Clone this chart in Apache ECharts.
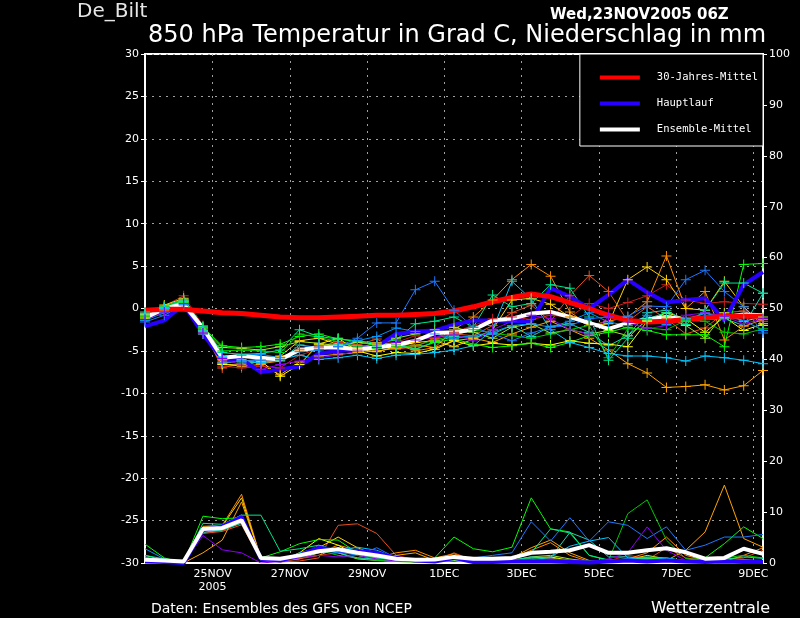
<!DOCTYPE html>
<html>
<head>
<meta charset="utf-8">
<title>De_Bilt 850 hPa Ensemble</title>
<script src="https://cdn.jsdelivr.net/npm/echarts@6/dist/echarts.min.js"></script>
<style>
  html, body { margin: 0; padding: 0; background: #000; }
  #main { width: 800px; height: 618px; }
</style>
</head>
<body>
<div id="main"></div>
<script>
// Stunden seit 23NOV2005 00Z (Lauf 06Z, alle 12h bis +384h)
var validHours = [6, 18, 30, 42, 54, 66, 78, 90, 102, 114, 126, 138, 150, 162, 174, 186, 198,
    210, 222, 234, 246, 258, 270, 282, 294, 306, 318, 330, 342, 354, 366, 378, 390];

var xTickHours = [48, 96, 144, 192, 240, 288, 336, 384];
var xTickLabels = ['25NOV\n2005', '27NOV', '29NOV', '1DEC', '3DEC', '5DEC', '7DEC', '9DEC'];

// 30-Jahres-Mittel (Temperatur)
var climTemp = [-0.2, -0.1, -0.1, -0.3, -0.5, -0.6, -0.8, -1.0, -1.1, -1.1, -1.0, -0.9, -0.8, -0.8, -0.7, -0.6, -0.3,
    0.2, 0.8, 1.3, 1.7, 1.4, 0.7, 0.0, -0.8, -1.4, -1.6, -1.5, -1.3, -1.1, -0.9, -0.9, -0.9];
// Hauptlauf
var mainTemp = [-2.1, -1.4, 0.5, -3.0, -6.0, -6.0, -7.5, -7.2, -6.8, -5.3, -5.0, -4.8, -4.5, -3.0, -2.7, -2.6, -1.9,
    -1.4, -1.4, -1.5, -1.5, 2.4, 1.4, 0.0, 1.6, 3.4, 1.9, 0.7, 1.0, 1.2, -1.4, 2.8, 4.3];
var mainPrec = [0.3, 0.2, 0.0, 6.5, 7.2, 9.0, 0.8, 0.5, 1.5, 3.0, 2.5, 2.3, 2.0, 1.0, 0.5, 0.3, 1.0,
    0.2, 0.2, 0.3, 0.3, 0.3, 0.2, 0.1, 0.3, 0.5, 0.3, 0.5, 0.3, 0.2, 0.3, 0.2, 0.2];
// Ensemble-Mittel
var meanTemp = [-1.1, 0.0, 0.5, -2.3, -5.8, -5.6, -5.8, -6.0, -4.9, -4.6, -4.6, -4.8, -4.6, -4.3, -3.8, -2.9, -2.8,
    -2.5, -1.4, -1.2, -0.6, -0.4, -1.0, -1.7, -2.4, -1.7, -1.3, -1.0, -1.3, -1.1, -1.0, -0.7, -0.8];
var meanPrec = [0.65, 0.5, 0.3, 6.7, 6.9, 8.4, 1.0, 0.85, 1.5, 2.3, 2.7, 2.0, 1.5, 0.85, 0.65, 0.7, 1.2,
    0.85, 0.85, 1.0, 2.0, 2.2, 2.5, 3.5, 2.0, 2.0, 2.5, 2.9, 2.1, 0.85, 1.0, 2.8, 1.8];

// Ensemble-Mitglieder
var memberColors = ['#c81e1e', '#e6501e', '#ff8c00', '#ffa500', '#ffd200', '#ffff00', '#a0e632', '#00ff00',
    '#00c800', '#00e68c', '#1ed2b4', '#00c8ff', '#0096ff', '#1e78ff', '#8c00f0'];

var memberTemp = [
    [-0.5, 0.3, 1.5, -2.0, -6.8, -7.0, -6.8, -7.0, -5.5, -4.8, -4.0, -4.5, -4.2, -4.0, -3.2, -3.5, -2.8, -2.0, -1.2, -1.0, -1.3, -0.8, -1.0, 0.6, 0.0, 0.7, 1.5, 2.8, 1.0, 0.6, 0.8, 0.6, 0.5],
    [-0.6, 0.0, 0.8, -2.5, -7.0, -6.5, -6.3, -5.8, -4.8, -4.5, -3.9, -4.3, -3.6, -4.8, -4.5, -3.5, -3.0, -3.2, -2.0, -0.5, 0.4, -1.5, 1.5, 3.9, 2.0, -1.5, 0.2, -1.2, -3.0, -2.3, -0.5, -0.3, -1.5],
    [-0.9, 0.2, 0.9, -3.0, -6.2, -6.0, -6.5, -6.2, -5.0, -4.6, -4.4, -4.8, -4.0, -4.2, -5.0, -4.6, -2.5, -1.0, 1.0, 3.4, 5.2, 3.8, -0.4, -2.0, -1.5, -1.0, 0.8, 6.2, 0.0, 2.0, -3.7, -2.1, -1.3],
    [-1.2, -0.3, 0.6, -2.8, -6.5, -6.8, -6.6, -7.8, -6.3, -5.6, -5.4, -5.2, -5.0, -4.7, -4.3, -4.6, -3.8, -3.5, -4.0, -3.0, -2.2, -1.5, -2.5, -3.5, -4.9, -6.5, -7.6, -9.3, -9.2, -9.0, -9.6, -9.1, -7.3],
    [-0.8, 0.4, 1.2, -2.2, -6.4, -6.2, -6.0, -5.6, -3.8, -3.5, -4.2, -4.8, -5.1, -4.5, -4.0, -3.8, -4.5, -3.6, -2.5, 1.0, 1.2, 0.5, -1.0, -2.0, -1.8, 3.4, 4.9, 3.4, 0.0, -0.2, 3.2, 0.2, -2.0],
    [-1.0, 0.0, 0.8, -2.6, -6.6, -6.7, -6.2, -8.0, -6.6, -4.2, -3.5, -5.0, -5.6, -5.2, -5.3, -4.8, -3.8, -4.4, -4.1, -4.3, -4.1, -4.3, -3.8, -4.1, -4.2, -4.5, -1.5, -0.5, -1.2, -2.8, -1.0, -2.6, -1.8],
    [-0.7, 0.1, 1.0, -2.4, -4.6, -4.7, -4.9, -4.5, -3.9, -4.1, -4.4, -4.0, -4.2, -3.5, -3.0, -2.5, -2.2, -2.8, -3.5, -2.2, -1.8, -2.9, -2.5, -3.0, -2.6, -3.2, -1.4, -1.0, -2.0, -3.5, -0.5, -1.5, -1.0],
    [-1.1, -0.1, 0.7, -2.2, -4.4, -4.6, -4.5, -4.2, -3.3, -3.0, -3.6, -3.9, -4.4, -4.0, -4.8, -4.0, -3.6, -4.2, -4.6, -4.4, -4.1, -4.6, -4.0, -3.2, -2.8, -2.2, -2.6, -3.1, -3.1, -3.1, -4.5, 5.2, 5.3],
    [-0.9, 0.2, 1.0, -2.3, -5.0, -4.9, -5.0, -5.2, -3.0, -3.4, -3.9, -4.5, -4.7, -4.5, -4.4, -3.7, -3.2, -2.5, -2.9, -3.2, -3.5, -3.0, -2.5, -2.0, -5.8, -2.4, -2.3, -2.5, -1.4, -1.5, -2.8, -3.0, -2.4],
    [-0.4, 0.3, 1.1, -2.1, -5.2, -5.4, -5.3, -4.9, -2.5, -3.3, -3.6, -3.8, -4.1, -3.7, -1.8, -1.5, -1.0, -2.2, 1.6, 0.2, 0.6, 2.8, 2.4, -1.0, -6.1, -3.5, -1.2, -0.5, -1.9, -0.2, 3.0, 3.0, 1.8],
    [-0.6, 0.1, 0.9, -2.6, -6.0, -6.3, -6.4, -6.1, -4.3, -4.6, -4.2, -4.4, -4.5, -4.3, -4.8, -3.9, -3.3, -3.4, -3.0, -2.0, -3.3, -2.1, -1.8, -2.8, -4.4, -3.2, -0.5, -0.2, -1.5, -0.5, -1.2, -2.0, 1.8],
    [-0.8, 0.0, 0.8, -2.7, -5.7, -6.1, -6.4, -6.0, -5.5, -6.0, -5.8, -5.5, -5.9, -5.5, -5.4, -5.2, -4.9, -4.4, -2.5, 3.2, 1.1, -2.5, -4.0, -4.6, -5.3, -5.6, -5.6, -5.8, -6.2, -5.6, -5.8, -6.1, -6.5],
    [-1.4, -0.5, 0.5, -3.0, -5.8, -5.5, -5.4, -5.8, -5.1, -4.9, -4.5, -3.8, -3.3, -2.3, -2.7, -3.0, -3.5, -3.2, -2.8, -2.0, -1.8, -2.2, -1.5, -0.5, -1.6, -2.0, -0.8, -1.9, -1.2, -0.6, -0.9, -1.4, -2.6],
    [-1.6, -0.8, 0.4, -2.9, -6.4, -6.2, -6.1, -6.0, -4.6, -4.4, -4.5, -3.5, -1.7, -1.7, 2.2, 3.2, -0.2, -2.2, -3.0, -3.8, -2.9, -2.2, -2.0, -1.2, -1.0, -0.9, 0.3, 0.2, 3.4, 4.5, 2.0, 0.2, -2.9],
    [-1.3, -0.4, 0.6, -2.9, -5.9, -6.7, -7.2, -6.6, -6.2, -5.8, -5.5, -5.0, -4.6, -4.0, -3.7, -3.4, -3.0, -3.8, -2.5, -1.5, -0.8, -1.2, -2.5, -3.0, -1.0, -1.6, -2.4, -2.0, -0.8, -0.5, -0.9, -1.8, -1.2]
];

var memberPrec = [
    [0.5, 0.3, 0.0, 6.0, 6.3, 8.0, 0.8, 0.3, 0.8, 1.5, 2.0, 1.8, 1.0, 0.5, 0.2, 0.3, 0.5, 0.2, 0.1, 0.2, 0.5, 0.8, 0.3, 0.2, 0.4, 1.5, 1.0, 0.5, 0.2, 0.1, 0.3, 0.4, 0.2],
    [0.6, 0.4, 0.0, 5.8, 6.2, 7.5, 0.6, 0.2, 0.4, 1.0, 7.4, 7.7, 5.8, 1.5, 0.6, 0.4, 2.0, 0.5, 0.3, 0.2, 0.3, 0.5, 0.2, 0.1, 0.5, 0.8, 0.6, 3.0, 1.0, 0.5, 0.8, 1.0, 2.5],
    [0.8, 0.5, 0.0, 7.2, 7.4, 13.5, 0.9, 0.4, 0.8, 2.0, 3.5, 2.5, 1.0, 2.0, 2.5, 1.0, 1.8, 0.5, 0.5, 1.0, 2.5, 4.0, 1.5, 0.3, 0.2, 0.8, 2.0, 5.1, 1.5, 0.5, 0.3, 1.5, 3.0],
    [0.4, 0.2, 0.0, 2.0, 4.5, 12.0, 1.0, 0.5, 1.0, 1.5, 3.0, 2.0, 1.0, 1.5, 2.0, 0.5, 0.5, 0.2, 0.3, 1.0, 3.0, 4.5, 2.0, 0.5, 0.2, 0.3, 0.5, 0.5, 2.5, 6.1, 15.3, 4.8, 3.1],
    [0.5, 0.3, 0.0, 7.0, 7.2, 12.8, 0.8, 0.5, 1.5, 3.0, 5.1, 3.0, 1.5, 0.8, 0.3, 0.3, 0.6, 0.2, 0.2, 0.3, 0.6, 1.0, 0.4, 0.2, 0.2, 0.6, 1.5, 0.8, 0.3, 0.2, 0.2, 0.3, 0.5],
    [0.4, 0.3, 0.0, 6.5, 6.8, 8.5, 0.5, 0.3, 2.0, 4.8, 3.5, 1.5, 0.8, 0.5, 0.3, 0.4, 0.5, 0.3, 0.2, 0.4, 1.0, 1.2, 0.5, 0.2, 0.3, 0.4, 0.8, 0.5, 0.2, 0.2, 0.3, 0.4, 0.3],
    [1.5, 0.5, 0.0, 6.2, 6.5, 8.0, 0.7, 0.4, 1.0, 3.5, 2.0, 0.8, 0.5, 0.3, 0.2, 0.3, 0.4, 0.3, 0.2, 0.5, 1.2, 1.5, 0.8, 0.3, 0.4, 0.8, 1.0, 0.6, 0.3, 0.3, 0.5, 0.6, 0.4],
    [3.7, 1.0, 0.0, 9.2, 8.7, 8.9, 1.0, 2.2, 3.8, 4.6, 4.5, 2.0, 1.0, 0.5, 0.3, 1.0, 5.1, 2.8, 2.2, 3.1, 12.8, 6.7, 6.1, 1.5, 0.5, 0.6, 1.0, 0.8, 0.5, 1.0, 3.8, 7.1, 4.8],
    [1.0, 0.5, 0.0, 6.8, 7.0, 8.0, 0.5, 0.3, 1.5, 2.5, 1.5, 1.0, 0.5, 0.3, 0.2, 0.5, 1.0, 0.5, 0.3, 0.5, 1.0, 0.8, 0.6, 0.4, 0.5, 9.7, 12.4, 4.5, 0.85, 0.6, 1.0, 1.5, 1.0],
    [1.5, 0.8, 0.0, 7.8, 7.6, 9.4, 9.4, 2.3, 2.8, 3.5, 2.5, 1.5, 1.0, 0.6, 0.5, 0.8, 1.2, 0.8, 0.5, 0.8, 2.0, 6.7, 5.9, 1.5, 0.6, 0.8, 1.2, 1.0, 0.4, 0.5, 0.7, 1.2, 0.9],
    [0.8, 0.5, 0.0, 6.0, 6.5, 7.8, 0.6, 0.5, 2.0, 3.0, 2.0, 1.0, 0.8, 0.4, 0.3, 0.4, 0.6, 0.4, 0.3, 0.5, 1.2, 1.0, 6.0, 4.5, 1.2, 1.2, 0.8, 0.6, 0.3, 0.2, 0.3, 0.5, 0.4],
    [0.5, 0.4, 0.0, 6.3, 6.6, 8.2, 0.7, 0.5, 1.2, 2.0, 2.5, 3.1, 2.5, 1.0, 0.5, 0.3, 0.8, 0.5, 0.3, 0.6, 0.5, 1.2, 3.3, 4.3, 5.0, 1.0, 0.5, 1.0, 0.4, 0.3, 0.4, 0.5, 0.3],
    [2.8, 0.8, 0.0, 6.5, 7.0, 9.0, 0.8, 0.4, 1.5, 2.5, 2.0, 2.8, 1.5, 0.6, 0.3, 0.5, 1.0, 0.3, 0.2, 0.5, 0.8, 0.6, 0.5, 0.3, 0.5, 0.8, 0.6, 0.5, 0.3, 0.2, 0.4, 0.6, 0.5],
    [1.2, 0.5, 0.0, 6.8, 7.3, 9.5, 0.9, 0.6, 1.8, 2.8, 2.2, 1.5, 3.0, 1.0, 0.5, 0.5, 1.0, 1.0, 1.5, 2.0, 8.1, 4.3, 8.9, 4.3, 8.1, 7.4, 4.8, 7.1, 2.5, 3.5, 5.1, 5.1, 5.6],
    [0.6, 0.4, 0.0, 5.4, 2.6, 2.0, 0.0, 0.3, 1.0, 1.5, 1.2, 1.5, 0.8, 0.4, 0.3, 0.3, 1.2, 0.3, 0.2, 0.3, 0.5, 0.8, 0.5, 0.3, 0.8, 2.0, 7.1, 2.5, 0.5, 0.3, 0.3, 0.4, 0.3]
];

var FONT = 'DejaVu Sans';
var MONO = 'DejaVu Sans Mono';
var plusSymbol = 'path://M4.5,0H5.5V4.5H10V5.5H5.5V10H4.5V5.5H0V4.5H4.5Z';

function pairs(values) {
    var out = [];
    for (var i = 0; i < values.length; i++) out.push([validHours[i], values[i]]);
    return out;
}

var myChart = echarts.init(document.getElementById('main'));

var series = [];
// Niederschlag der Mitglieder (rechte Achse)
for (var m = 0; m < memberPrec.length; m++) {
    series.push({
        type: 'line', yAxisIndex: 1, data: pairs(memberPrec[m]),
        showSymbol: false, silent: true,
        lineStyle: { color: memberColors[m], width: 1 }
    });
}
// Temperatur der Mitglieder
for (var k = 0; k < memberTemp.length; k++) {
    series.push({
        type: 'line', yAxisIndex: 0, data: pairs(memberTemp[k]),
        symbol: plusSymbol, symbolSize: 10, silent: true,
        itemStyle: { color: memberColors[k] },
        lineStyle: { color: memberColors[k], width: 1 }
    });
}
series.push(
    { name: 'Hauptlauf', type: 'line', yAxisIndex: 1, data: pairs(mainPrec), showSymbol: false,
      itemStyle: { color: '#2800ff' }, lineStyle: { color: '#2800ff', width: 4 } },
    { name: 'Ensemble-Mittel', type: 'line', yAxisIndex: 1, data: pairs(meanPrec), showSymbol: false,
      itemStyle: { color: '#ffffff' }, lineStyle: { color: '#ffffff', width: 4 } },
    { name: 'Hauptlauf', type: 'line', yAxisIndex: 0, data: pairs(mainTemp), showSymbol: false,
      itemStyle: { color: '#2800ff' }, lineStyle: { color: '#2800ff', width: 4 } },
    { name: 'Ensemble-Mittel', type: 'line', yAxisIndex: 0, data: pairs(meanTemp), showSymbol: false,
      itemStyle: { color: '#ffffff' }, lineStyle: { color: '#ffffff', width: 4 } },
    { name: '30-Jahres-Mittel', type: 'line', yAxisIndex: 0, data: pairs(climTemp), showSymbol: false,
      itemStyle: { color: '#ff0000' }, lineStyle: { color: '#ff0000', width: 5 } }
);

var option = {
    backgroundColor: '#000000',
    animation: false,
    textStyle: { fontFamily: FONT },
    title: [
        { text: 'De_Bilt', left: 72, top: -3, textStyle: { color: '#e6e6e6', fontSize: 20, fontWeight: 'normal', fontFamily: FONT } },
        { text: 'Wed,23NOV2005 06Z', left: 545, top: 3, textStyle: { color: '#ffffff', fontSize: 15, fontWeight: 'bold', fontFamily: FONT } },
        { text: '850 hPa Temperatur in Grad C, Niederschlag in mm', left: 143, top: 19,
          textStyle: { color: '#ffffff', fontSize: 24, fontWeight: 'normal', fontFamily: FONT } },
        { text: 'Daten: Ensembles des GFS von NCEP', left: 146, top: 597,
          textStyle: { color: '#ffffff', fontSize: 14, fontWeight: 'normal', fontFamily: FONT } },
        { text: 'Wetterzentrale', right: 25, top: 596,
          textStyle: { color: '#ffffff', fontSize: 16, fontWeight: 'normal', fontFamily: FONT } }
    ],
    legend: {
        data: ['30-Jahres-Mittel', 'Hauptlauf', 'Ensemble-Mittel'],
        orient: 'vertical', right: 37, top: 54,
        backgroundColor: '#000000', borderColor: '#ffffff', borderWidth: 1,
        padding: [18, 5, 11, 20], itemGap: 15,
        itemWidth: 40, itemHeight: 4, icon: 'rect',
        textStyle: { color: '#ffffff', fontSize: 10.5, fontFamily: MONO, padding: [0, 0, 0, 12] },
        selectedMode: false
    },
    grid: { left: 145, right: 37, top: 54, bottom: 55, show: true, borderColor: '#ffffff', borderWidth: 2, backgroundColor: 'transparent' },
    xAxis: {
        type: 'value', min: 6, max: 390,
        axisLine: { show: true, onZero: false, lineStyle: { color: '#ffffff', width: 2 } },
        axisTick: { show: false, customValues: xTickHours },
        axisLabel: {
            customValues: xTickHours, color: '#ffffff', fontSize: 11, fontFamily: FONT, lineHeight: 13, margin: 5,
            formatter: function (v) { return xTickLabels[xTickHours.indexOf(v)] || ''; }
        },
        splitLine: { show: true, lineStyle: { color: '#a0a0a0', width: 1, type: [2, 5] } }
    },
    yAxis: [
        {
            type: 'value', min: -30, max: 30, interval: 5, position: 'left',
            axisLine: { show: true, lineStyle: { color: '#ffffff', width: 2 } },
            axisTick: { show: true, length: 4, lineStyle: { color: '#ffffff' } },
            axisLabel: { color: '#ffffff', fontSize: 11, fontFamily: FONT, margin: 6 },
            splitLine: { show: true, lineStyle: { color: '#a0a0a0', width: 1, type: [2, 5] } }
        },
        {
            type: 'value', min: 0, max: 100, interval: 10, position: 'right',
            axisLine: { show: true, lineStyle: { color: '#ffffff', width: 2 } },
            axisTick: { show: true, length: 4, lineStyle: { color: '#ffffff' } },
            axisLabel: { color: '#ffffff', fontSize: 11, fontFamily: FONT, margin: 6 },
            splitLine: { show: false }
        }
    ],
    series: series
};

myChart.setOption(option);
</script>
</body>
</html>
